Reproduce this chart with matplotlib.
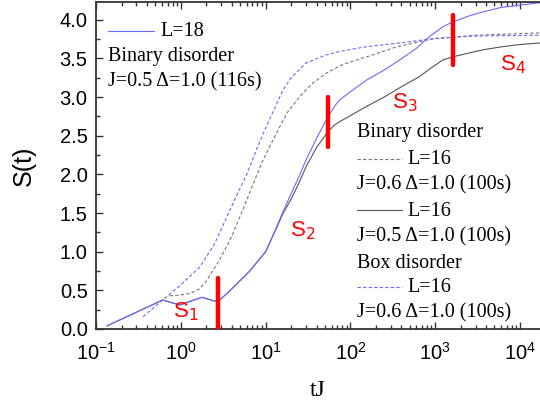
import numpy as np
import matplotlib
matplotlib.use('Agg')
import matplotlib.pyplot as plt
from matplotlib.lines import Line2D
from matplotlib.ticker import LogLocator, MultipleLocator, NullFormatter

# L=18, binary disorder, J=0.5 (blue solid)
t_l18 = [0.135, 0.61, 0.97, 1.77, 2.72, 4, 6.5, 10, 13, 15.8, 20, 25, 30, 40, 54, 65, 74, 100, 155,
         250, 380, 600, 850, 1230, 1600, 2500, 3600, 6000, 10000, 17000]
s_l18 = [0.04, 0.375, 0.31, 0.41, 0.35, 0.52, 0.75, 1.0, 1.28, 1.5, 1.75, 1.98, 2.19, 2.47, 2.74, 2.88, 2.96,
         3.07, 3.22, 3.35, 3.48, 3.63, 3.78, 3.91, 3.97, 4.05, 4.10, 4.16, 4.19, 4.22]

# L=16, binary disorder, J=0.5 (dark solid)
t_b05 = [0.135, 0.61, 0.97, 1.77, 2.72, 4, 6.5, 10, 13, 15.8, 20, 25, 30, 40, 54, 65, 74, 100, 155,
         250, 380, 640, 930, 1230, 1600, 2500, 3600, 6000, 10000, 17000]
s_b05 = [0.04, 0.375, 0.31, 0.41, 0.35, 0.52, 0.75, 1.0, 1.27, 1.48, 1.68, 1.9, 2.1, 2.35, 2.55, 2.64, 2.68,
         2.76, 2.88, 3.0, 3.12, 3.26, 3.39, 3.48, 3.52, 3.57, 3.61, 3.65, 3.68, 3.70]

# L=16, binary disorder, J=0.6 (gray dashed)
t_b06 = [0.74, 1.0, 1.29, 1.67, 2.0, 2.4, 2.86, 4, 6, 9, 13.5, 18, 25, 35, 52, 80, 155, 350, 900, 3000, 17000]
s_b06 = [0.43, 0.44, 0.46, 0.52, 0.62, 0.76, 0.89, 1.2, 1.67, 2.15, 2.54, 2.8, 3.0, 3.17, 3.31, 3.42, 3.52,
         3.65, 3.75, 3.80, 3.83]

# L=16, box disorder, J=0.6 (blue dashed)
t_box = [0.36, 0.61, 1.0, 1.67, 2.5, 4.3, 6, 7.8, 10, 16, 20, 30, 50, 74, 150, 380, 1000, 3000, 17000]
s_box = [0.16, 0.375, 0.57, 0.8, 1.1, 1.67, 2.0, 2.32, 2.6, 3.09, 3.25, 3.44, 3.54, 3.59, 3.65, 3.70, 3.76,
         3.79, 3.80]

# red markers separating the regimes
bar_t = [2.75, 54.5, 1635]
bar_lo = [0.0, 2.36, 3.42]
bar_hi = [0.66, 3.0, 4.06]
stage_labels = ['S$_1$', 'S$_2$', 'S$_3$', 'S$_4$']
stage_t = [0.81, 19.4, 309, 5800]
stage_s = [0.155, 1.20, 2.86, 3.35]

blue = '#6a6aff'
dark = '#555555'
gray = '#777777'

fig = plt.figure(figsize=(5.4, 4.04), dpi=100)
ax = fig.add_axes([96 / 540, 1 - 329 / 404, 444 / 540, 327 / 404])

ax.plot(t_b05, s_b05, color=dark, lw=0.8)
ax.plot(t_l18, s_l18, color=blue, lw=0.8)
ax.plot(t_b06, s_b06, color=gray, lw=0.8, ls=(0, (3, 2)))
ax.plot(t_box, s_box, color=blue, lw=0.8, ls=(0, (3, 2)))
ax.vlines(bar_t, bar_lo, bar_hi, color='red', lw=3.2, capstyle='round', zorder=5)

for lab, tx, sy in zip(stage_labels, stage_t, stage_s):
    ax.text(tx, sy, lab, color='red', fontsize=16, family='Liberation Sans',
            ha='left', va='baseline')

ax.set_xscale('log')
ax.set_xlim(0.1, 1.72e4)
ax.set_ylim(0, 4.23)
ax.xaxis.set_major_locator(LogLocator(base=10, numticks=10))
ax.xaxis.set_minor_locator(LogLocator(base=10, subs=np.arange(2, 10), numticks=20))
ax.xaxis.set_minor_formatter(NullFormatter())
ax.yaxis.set_major_locator(MultipleLocator(0.5))
ax.yaxis.set_minor_locator(MultipleLocator(0.25))
ax.yaxis.set_major_formatter(plt.FuncFormatter(lambda v, p: f'{v:.1f}'))

ax.tick_params(which='both', direction='in', top=True, right=False, colors='#333333',
               labelcolor='black', labelsize=14.5)
ax.tick_params(which='major', length=5, width=1)
ax.tick_params(which='minor', length=3, width=1)
ax.tick_params(axis='x', pad=9)
ax.tick_params(axis='y', pad=6)
for lab in ax.get_xticklabels() + ax.get_yticklabels():
    lab.set_family('Liberation Sans')
for side in ['left', 'bottom', 'top']:
    ax.spines[side].set_color('#333333')
    ax.spines[side].set_linewidth(1.3)
ax.spines['right'].set_visible(False)

ax.set_xlabel('tJ', family='Liberation Serif', fontsize=17, labelpad=12)
ax.set_ylabel('S(t)', family='Liberation Sans', fontsize=18, labelpad=17)


def px(x, y):
    return x / 540, 1 - y / 404


def key_line(x0, x1, y, color, ls):
    a, b = px(x0, y)
    c, _ = px(x1, y)
    fig.add_artist(Line2D([a, c], [b, b], color=color, lw=0.8, ls=ls))


def key_text(x, y, s):
    fig.text(*px(x, y), s, family='Liberation Serif', fontsize=14.5, va='center', ha='left')


# upper-left key
key_line(108, 154, 31, blue, '-')
key_text(160, 32, 'L=18')
key_text(108, 57, 'Binary disorder')
key_text(108, 82, 'J=0.5 \u0394=1.0 (116s)')

# right key
key_text(357, 133, 'Binary disorder')
key_line(357, 402, 159, gray, (0, (3, 2)))
key_text(407, 160, 'L=16')
key_text(357, 185, 'J=0.6 \u0394=1.0 (100s)')
key_line(357, 402, 210, dark, '-')
key_text(407, 211, 'L=16')
key_text(357, 237, 'J=0.5 \u0394=1.0 (100s)')
key_text(357, 263, 'Box disorder')
key_line(357, 402, 287, blue, (0, (3, 2)))
key_text(407, 288, 'L=16')
key_text(357, 313, 'J=0.6 \u0394=1.0 (100s)')

fig.savefig('out.png', dpi=100)
